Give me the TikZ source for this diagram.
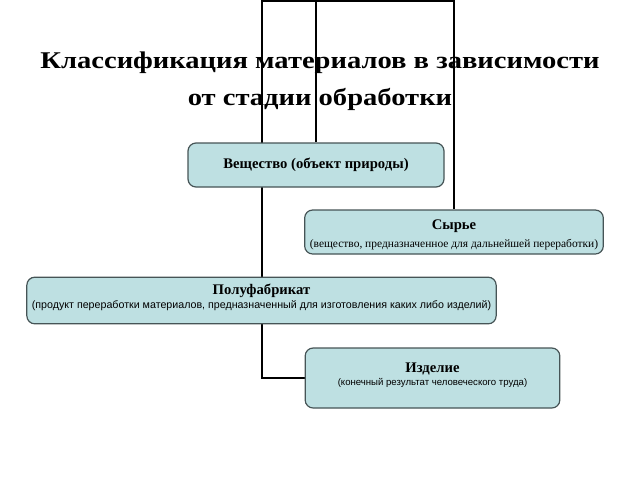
\documentclass[tikz,border=0pt]{standalone}
\usepackage{fontspec}
\setmainfont{Liberation Serif}
\newfontfamily\arialfont{Liberation Sans}
\usetikzlibrary{backgrounds}
\definecolor{boxfill}{RGB}{190,224,226}
\definecolor{boxline}{RGB}{70,84,86}
\tikzset{
  stagebox/.style={draw=boxline, fill=boxfill, line width=0.9pt, rounded corners=6pt, align=center, inner sep=0pt},
  link/.style={draw=black, line width=1.5pt}
}
\begin{document}
\begin{tikzpicture}[x=0.75pt,y=0.75pt,yscale=-1,xscale=1]
\useasboundingbox (0,0) rectangle (640,480);

% Title
\node (title) at (320,81) [align=center, font=\fontsize{18}{27.5}\selectfont\bfseries] {\scalebox{1.19}[1]{Классификация материалов в зависимости}\\\scalebox{1.19}[1]{от стадии обработки}};

% Boxes
\node (veshch) at (316,165) [stagebox, minimum width=192pt, minimum height=33pt, font=\fontsize{11}{13}\selectfont\bfseries] {Вещество (объект природы)};
\node (syrye) at (454,232) [stagebox, minimum width=224pt, minimum height=33pt] {{\fontsize{11}{13}\selectfont\bfseries\rule{0pt}{11.8pt}Сырье}\\[1.5pt] {\fontsize{8.6}{11}\selectfont (вещество, предназначенное для дальнейшей переработки)}};
\node (polufab) at (261.5,300.5) [stagebox, minimum width=352pt, minimum height=35pt] {{\fontsize{11}{13}\selectfont\bfseries Полуфабрикат}\\[-1.5pt] {\arialfont\fontsize{8}{10}\selectfont (продукт переработки материалов, предназначенный для изготовления каких либо изделий)\rule[-6.5pt]{0pt}{6.5pt}}};
\node (izdel) at (432.5,378) [stagebox, minimum width=191pt, minimum height=45pt] {{\fontsize{11}{13}\selectfont\bfseries Изделие}\\[-2pt] {\arialfont\fontsize{7.2}{9}\selectfont (конечный результат человеческого труда)\rule[-6pt]{0pt}{6pt}}};

% Connectors
\coordinate (topl) at (262,1);
\begin{scope}[on background layer]
\draw [link] (syrye.north) |- (topl) |- (izdel.west);
\draw [link] (veshch.north) -- (veshch.north |- topl);
\end{scope}

\end{tikzpicture}
\end{document}
